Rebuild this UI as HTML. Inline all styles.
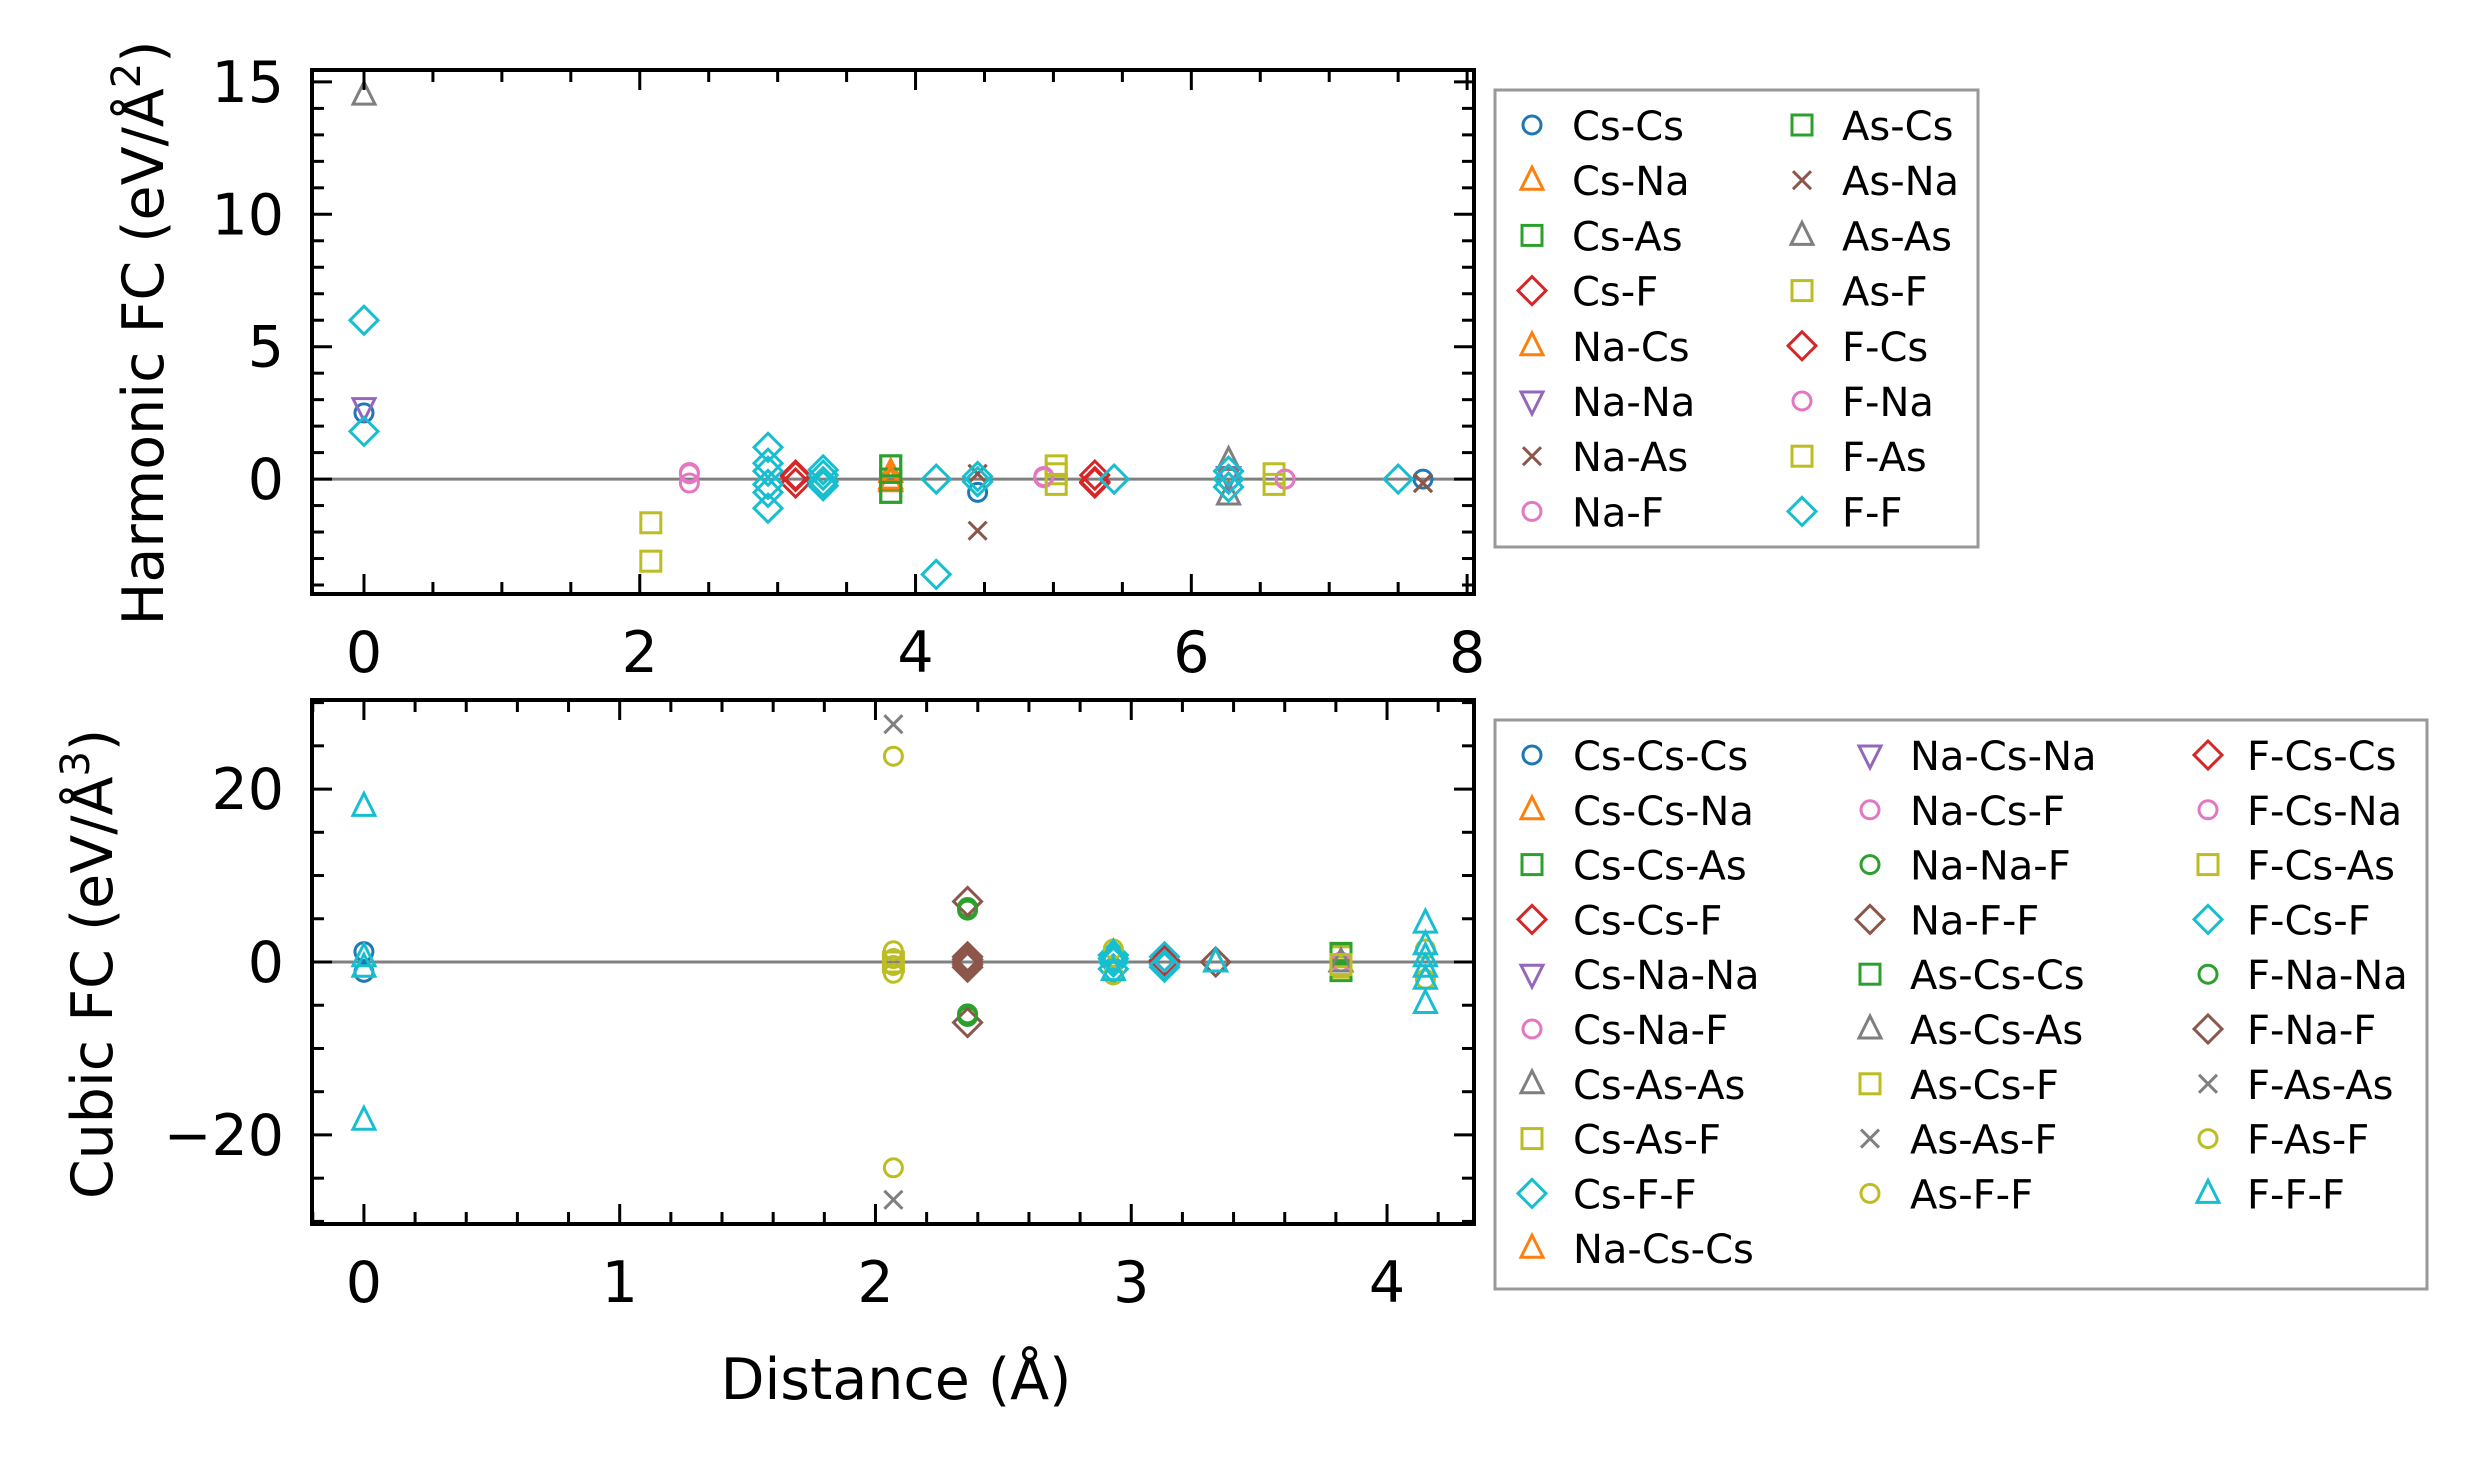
<!DOCTYPE html>
<html><head><meta charset="utf-8"><style>
html,body{margin:0;padding:0;background:#fff;}
svg{display:block;font-family:"DejaVu Sans","Liberation Sans",sans-serif;}
</style></head><body>
<svg id="fig" width="2485" height="1470" viewBox="0 0 2485 1470" xmlns="http://www.w3.org/2000/svg"></svg>
<script>
// ---------- Harmonic panel data ----------
const hCsCsX=[0,4.45,7.68], hCsCsY=[2.5,-0.5,0.0];
const hCsNaX=[3.82,3.82], hCsNaY=[0.25,-0.1];
const hCsAsX=[3.82,3.82,3.82], hCsAsY=[0.5,0,-0.5];
const hCsFX=[3.13,3.13,5.3,5.3], hCsFY=[0.15,-0.15,0.15,-0.15];
const hNaCsX=[3.82], hNaCsY=[0.0];
const hNaNaX=[0,6.27], hNaNaY=[2.7,0.1];
const hNaAsX=[4.45,4.45,7.68], hNaAsY=[0.2,-1.95,-0.15];
const hNaFX=[2.36,2.36,4.93,6.68], hNaFY=[0.25,-0.15,0.05,0];
const hAsCsX=[3.82,3.82], hAsCsY=[0.5,-0.5];
const hAsNaX=[4.45,7.68], hAsNaY=[0.2,-0.15];
const hAsAsX=[0,6.27,6.27], hAsAsY=[14.5,0.7,-0.6];
const hAsFX=[2.08,2.08,5.02,5.02,6.6], hAsFY=[-1.65,-3.1,0.5,0.2,0.2];
const hFCsX=[3.13,5.3], hFCsY=[0.1,-0.1];
const hFNaX=[2.36,4.93,6.68], hFNaY=[0.2,0.1,0];
const hFAsX=[5.02,6.6], hFAsY=[-0.2,-0.2];
const hFFX=[0,0,2.93,2.93,2.93,2.93,2.93,2.93,3.33,3.33,3.33,3.33,4.15,4.15,4.45,4.45,5.44,6.27,6.27,6.27,7.5];
const hFFY=[6.0,1.8,1.2,0.6,0.3,-0.2,-0.5,-1.1,0.35,0.15,-0.1,-0.25,0,-3.6,0.1,-0.1,0,0.3,0,-0.3,0];
const harmXTicks=[0,2,4,6,8], harmYTicks=[0,5,10,15];

// ---------- Cubic panel data ----------
const cCsCsCsX=[0,0], cCsCsCsY=[1.2,-1.2];
const cCsCsNaX=[3.33], cCsCsNaY=[0];
const cCsCsAsX=[3.82], cCsCsAsY=[0.8];
const cCsCsFX=[3.13], cCsCsFY=[0.2];
const cCsNaNaX=[], cCsNaNaY=[];
const cCsNaFX=[3.13], cCsNaFY=[0];
const cCsAsAsX=[], cCsAsAsY=[];
const cCsAsFX=[3.82,3.82], cCsAsFY=[0.6,-0.6];
const cCsFFX=[2.93,2.93,2.93,3.13,3.13], cCsFFY=[0.8,0,-0.8,0.6,-0.6];
const cNaCsCsX=[], cNaCsCsY=[];
const cNaCsNaX=[], cNaCsNaY=[];
const cNaCsFX=[3.82], cNaCsFY=[0];
const cNaNaFX=[2.36,2.36], cNaNaFY=[6.3,-6.3];
const cNaFFX=[2.36,2.36,2.36,2.36,2.36,3.33], cNaFFY=[7,-7,0.6,0,-0.6,0];
const cAsCsCsX=[3.82,3.82], cAsCsCsY=[1,-1];
const cAsCsAsX=[3.82], cAsCsAsY=[0];
const cAsCsFX=[3.82], cAsCsFY=[-0.3];
const cAsAsFX=[], cAsAsFY=[];
const cAsFFX=[2.07,2.07,2.07,2.07,2.93,4.15], cAsFFY=[1.3,0.4,-0.4,-1.3,1.5,1.5];
const cFCsCsX=[3.13], cFCsCsY=[0];
const cFCsNaX=[], cFCsNaY=[];
const cFCsAsX=[2.07], cFCsAsY=[0];
const cFCsFX=[2.93,3.13], cFCsFY=[0.4,-0.3];
const cFNaNaX=[2.36,2.36], cFNaNaY=[6.0,-6.0];
const cFNaFX=[2.36,2.36], cFNaFY=[0.3,-0.3];
const cFAsAsX=[2.07,2.07], cFAsAsY=[27.5,-27.5];
const cFAsFX=[2.07,2.07,2.93,4.15], cFAsFY=[23.8,-23.8,-1.5,-2];
const cFFFX=[0,0,0,0,4.15,4.15,4.15,4.15,4.15,4.15,2.93,2.93,3.33];
const cFFFY=[18,-18.3,0.6,-0.6,4.5,2,0.6,-0.6,-2,-4.8,1,-1,0];
const cubicXTicks=[0,1,2,3,4], cubicYTicks=[-20,0,20];
const cubicYTickLabels=['\u221220','0','20'];

const C=['#1f77b4','#ff7f0e','#2ca02c','#d62728','#9467bd','#8c564b','#e377c2','#7f7f7f','#bcbd22','#17becf'];
const NS='http://www.w3.org/2000/svg';
const svg=document.getElementById('fig');
function mk(tag,attrs,parent){const e=document.createElementNS(NS,tag);for(const k in attrs)e.setAttribute(k,attrs[k]);(parent||svg).appendChild(e);return e;}

function marker(g,type,cx,cy,color){
  const sw=3;let e;
  if(type==='o'){e=mk('circle',{cx:cx,cy:cy,r:9,fill:'none',stroke:color,'stroke-width':sw},g);}
  else if(type==='s'){e=mk('rect',{x:cx-10,y:cy-10,width:20,height:20,fill:'none',stroke:color,'stroke-width':sw},g);}
  else if(type==='^'){e=mk('polygon',{points:`${cx},${cy-13} ${cx+11},${cy+9} ${cx-11},${cy+9}`,fill:'none',stroke:color,'stroke-width':sw},g);}
  else if(type==='v'){e=mk('polygon',{points:`${cx},${cy+13} ${cx+11},${cy-9} ${cx-11},${cy-9}`,fill:'none',stroke:color,'stroke-width':sw},g);}
  else if(type==='D'){e=mk('polygon',{points:`${cx},${cy-14} ${cx+14},${cy} ${cx},${cy+14} ${cx-14},${cy}`,fill:'none',stroke:color,'stroke-width':sw},g);}
  else if(type==='x'){e=mk('path',{d:`M${cx-9},${cy-9}L${cx+9},${cy+9}M${cx-9},${cy+9}L${cx+9},${cy-9}`,fill:'none',stroke:color,'stroke-width':sw},g);}
  return e;
}

function panel(opt){
  const {L,R,T,B,xmin,xmax,ymin,ymax}=opt;
  const sx=v=>L+(v-xmin)/(xmax-xmin)*(R-L);
  const sy=v=>B-(v-ymin)/(ymax-ymin)*(B-T);
  const g=mk('g',{});
  
  
  const zl=mk('line',{x1:L,x2:R,y1:sy(0),y2:sy(0),stroke:'#808080','stroke-width':3},g);
  
  
  opt.series.forEach(s=>{
    const sg=mk('g',{},g);
    
    
    for(let i=0;i<s.x.length;i++){
      const m=marker(sg,s.m,sx(s.x[i]),sy(s.y[i]),s.c);
      
      
    }
  });
  const tg=mk('g',{stroke:'#000','stroke-width':3},g);
  
  
  const eps=1e-6;
  for(let v=Math.ceil(xmin/opt.xminor)*opt.xminor;v<=xmax+eps;v+=opt.xminor){
    const isMaj=Math.abs(v/opt.xmajor-Math.round(v/opt.xmajor))<1e-4;const len=isMaj?20:12;const x=sx(v);
    mk('line',{x1:x,x2:x,y1:B,y2:B-len},tg);mk('line',{x1:x,x2:x,y1:T,y2:T+len},tg);
  }
  for(let v=Math.ceil(ymin/opt.yminor)*opt.yminor;v<=ymax+eps;v+=opt.yminor){
    const isMaj=Math.abs(v/opt.ymajor-Math.round(v/opt.ymajor))<1e-4;const len=isMaj?20:12;const y=sy(v);
    mk('line',{x1:L,x2:L+len,y1:y,y2:y},tg);mk('line',{x1:R,x2:R-len,y1:y,y2:y},tg);
  }
  const fr=mk('rect',{x:L,y:T,width:R-L,height:B-T,fill:'none',stroke:'#000','stroke-width':4},g);
  
  
  opt.xticks.forEach((v,i)=>{
    const t=mk('text',{x:sx(v),y:B+78,'text-anchor':'middle','font-size':57},g);
    t.textContent=String(v);
    
    
  });
  opt.yticks.forEach((v,i)=>{
    const t=mk('text',{x:L-28,y:sy(v)+20,'text-anchor':'end','font-size':57},g);
    t.textContent=opt.ytickLabels?opt.ytickLabels[i]:String(v);
    
    
  });
}

const harmSeries=[
 {label:'Cs-Cs',m:'o',c:C[0],x:hCsCsX,y:hCsCsY},{label:'Cs-Na',m:'^',c:C[1],x:hCsNaX,y:hCsNaY},
 {label:'Cs-As',m:'s',c:C[2],x:hCsAsX,y:hCsAsY},{label:'Cs-F',m:'D',c:C[3],x:hCsFX,y:hCsFY},
 {label:'Na-Cs',m:'^',c:C[1],x:hNaCsX,y:hNaCsY},{label:'Na-Na',m:'v',c:C[4],x:hNaNaX,y:hNaNaY},
 {label:'Na-As',m:'x',c:C[5],x:hNaAsX,y:hNaAsY},{label:'Na-F',m:'o',c:C[6],x:hNaFX,y:hNaFY},
 {label:'As-Cs',m:'s',c:C[2],x:hAsCsX,y:hAsCsY},{label:'As-Na',m:'x',c:C[5],x:hAsNaX,y:hAsNaY},
 {label:'As-As',m:'^',c:C[7],x:hAsAsX,y:hAsAsY},{label:'As-F',m:'s',c:C[8],x:hAsFX,y:hAsFY},
 {label:'F-Cs',m:'D',c:C[3],x:hFCsX,y:hFCsY},{label:'F-Na',m:'o',c:C[6],x:hFNaX,y:hFNaY},
 {label:'F-As',m:'s',c:C[8],x:hFAsX,y:hFAsY},{label:'F-F',m:'D',c:C[9],x:hFFX,y:hFFY}];
const cubicSeries=[
 {label:'Cs-Cs-Cs',m:'o',c:C[0],x:cCsCsCsX,y:cCsCsCsY},{label:'Cs-Cs-Na',m:'^',c:C[1],x:cCsCsNaX,y:cCsCsNaY},
 {label:'Cs-Cs-As',m:'s',c:C[2],x:cCsCsAsX,y:cCsCsAsY},{label:'Cs-Cs-F',m:'D',c:C[3],x:cCsCsFX,y:cCsCsFY},
 {label:'Cs-Na-Na',m:'v',c:C[4],x:cCsNaNaX,y:cCsNaNaY},{label:'Cs-Na-F',m:'o',c:C[6],x:cCsNaFX,y:cCsNaFY},
 {label:'Cs-As-As',m:'^',c:C[7],x:cCsAsAsX,y:cCsAsAsY},{label:'Cs-As-F',m:'s',c:C[8],x:cCsAsFX,y:cCsAsFY},
 {label:'Cs-F-F',m:'D',c:C[9],x:cCsFFX,y:cCsFFY},{label:'Na-Cs-Cs',m:'^',c:C[1],x:cNaCsCsX,y:cNaCsCsY},
 {label:'Na-Cs-Na',m:'v',c:C[4],x:cNaCsNaX,y:cNaCsNaY},{label:'Na-Cs-F',m:'o',c:C[6],x:cNaCsFX,y:cNaCsFY},
 {label:'Na-Na-F',m:'o',c:C[2],x:cNaNaFX,y:cNaNaFY},{label:'Na-F-F',m:'D',c:C[5],x:cNaFFX,y:cNaFFY},
 {label:'As-Cs-Cs',m:'s',c:C[2],x:cAsCsCsX,y:cAsCsCsY},{label:'As-Cs-As',m:'^',c:C[7],x:cAsCsAsX,y:cAsCsAsY},
 {label:'As-Cs-F',m:'s',c:C[8],x:cAsCsFX,y:cAsCsFY},{label:'As-As-F',m:'x',c:C[7],x:cAsAsFX,y:cAsAsFY},
 {label:'As-F-F',m:'o',c:C[8],x:cAsFFX,y:cAsFFY},{label:'F-Cs-Cs',m:'D',c:C[3],x:cFCsCsX,y:cFCsCsY},
 {label:'F-Cs-Na',m:'o',c:C[6],x:cFCsNaX,y:cFCsNaY},{label:'F-Cs-As',m:'s',c:C[8],x:cFCsAsX,y:cFCsAsY},
 {label:'F-Cs-F',m:'D',c:C[9],x:cFCsFX,y:cFCsFY},{label:'F-Na-Na',m:'o',c:C[2],x:cFNaNaX,y:cFNaNaY},
 {label:'F-Na-F',m:'D',c:C[5],x:cFNaFX,y:cFNaFY},{label:'F-As-As',m:'x',c:C[7],x:cFAsAsX,y:cFAsAsY},
 {label:'F-As-F',m:'o',c:C[8],x:cFAsFX,y:cFAsFY},{label:'F-F-F',m:'^',c:C[9],x:cFFFX,y:cFFFY}];

panel({name:'harmonic-panel',L:312,R:1474,T:70,B:594,xmin:-0.377,xmax:8.05,ymin:-4.34,ymax:15.45,
  xminor:0.5,xmajor:2,yminor:1,ymajor:5,xticks:harmXTicks,yticks:harmYTicks,series:harmSeries});
panel({name:'cubic-panel',L:312,R:1474,T:700,B:1224,xmin:-0.203,xmax:4.34,ymin:-30.3,ymax:30.3,
  xminor:0.2,xmajor:1,yminor:5,ymajor:20,xticks:cubicXTicks,yticks:cubicYTicks,ytickLabels:cubicYTickLabels,series:cubicSeries});

function title(txt,x,y,rot,name){
  const t=mk('text',{x:x,y:y,'text-anchor':'middle','font-size':57,transform:rot?`rotate(-90 ${x} ${y})`:''});
  t.innerHTML=txt;
  
  
}
title('Harmonic FC (eV/Å<tspan baseline-shift="super" font-size="40">2</tspan>)',163,333,true,'harmonic-y-axis-title');
title('Cubic FC (eV/Å<tspan baseline-shift="super" font-size="40">3</tspan>)',112,964,true,'cubic-y-axis-title');
title('Distance (Å)',896,1399,false,'x-axis-title');

// legends: colCounts gives number of entries per column
function legend(name,box,series,colCounts,colX,textX,y0,dy){
  const g=mk('g',{});
  
  
  mk('rect',{x:box[0],y:box[1],width:box[2],height:box[3],fill:'#fff',stroke:'#999','stroke-width':3},g);
  let col=0,row=0;
  series.forEach((s,i)=>{
    if(row>=colCounts[col]){col++;row=0;}
    const y=y0+row*dy;
    const eg=mk('g',{},g);
    
    
    marker(eg,s.m,colX[col],y,s.c);
    const t=mk('text',{x:textX[col],y:y+15,'font-size':40},eg);
    t.textContent=s.label;
    row++;
  });
}
legend('harmonic-legend',[1495,90,483,457],harmSeries,[8,8],[1532,1802],[1572,1842],125,55.2);
legend('cubic-legend',[1495,720,932,569],cubicSeries,[10,9,9],[1532,1870,2208],[1573,1910,2247],755,54.8);
</script>
</body></html>
